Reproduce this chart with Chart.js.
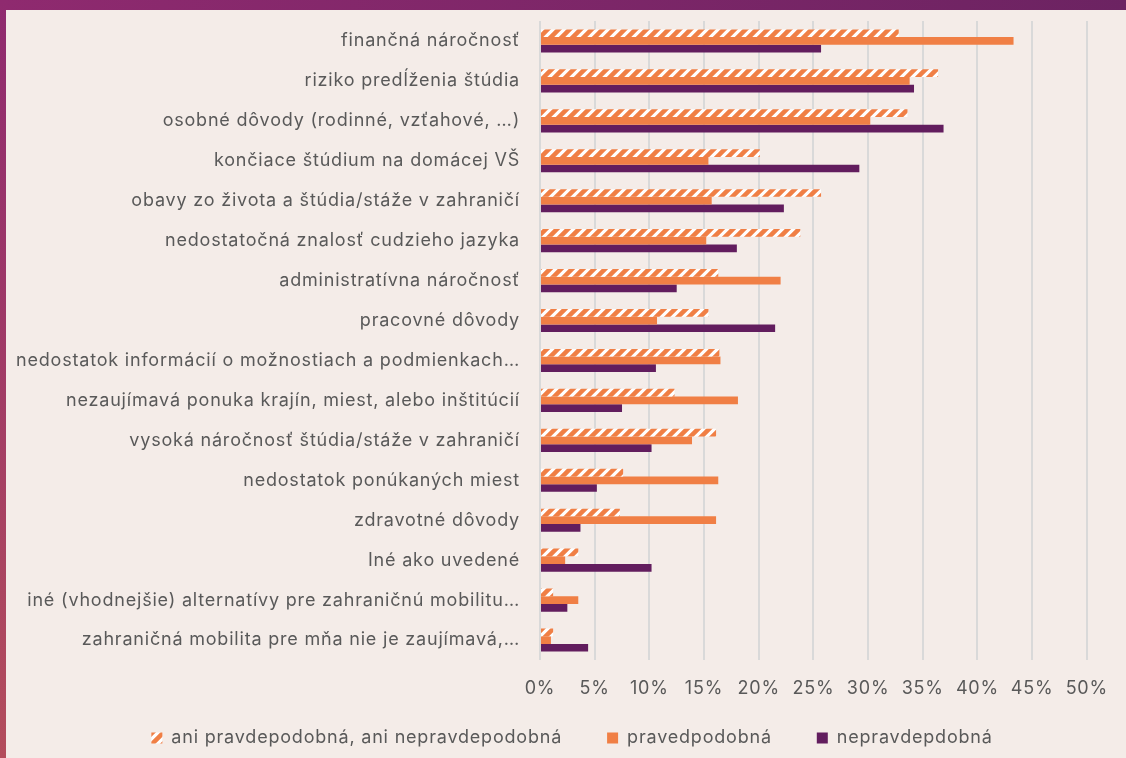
<!DOCTYPE html>
<html>
<head>
<meta charset="utf-8">
<title>Dôvody</title>
<script src="https://cdn.jsdelivr.net/npm/chart.js@4/dist/chart.umd.min.js"></script>
<style>
    html, body { margin: 0; padding: 0; }
    body { width: 1126px; height: 758px; position: relative; overflow: hidden; background: #f4ece8; }
    .band-top { position: absolute; left: 0; top: 0; width: 1126px; height: 10px; background: linear-gradient(to right, #8f2a6f, #6c2362); }
    .band-left { position: absolute; left: 0; top: 0; width: 6px; height: 758px; background: linear-gradient(to bottom, #8f2a6f, #b34d5c); }
    .chart-box { position: absolute; left: 6px; top: 10px; width: 1120px; height: 748px; }
</style>
</head>
<body>
<div class="band-top"></div>
<div class="band-left"></div>
<div class="chart-box"><canvas id="reasonsChart"></canvas></div>

<script>
const categories = [
    "finančná náročnosť",
    "riziko predĺženia štúdia",
    "osobné dôvody (rodinné, vzťahové, …)",
    "končiace štúdium na domácej VŠ",
    "obavy zo života a štúdia/stáže v zahraničí",
    "nedostatočná znalosť cudzieho jazyka",
    "administratívna náročnosť",
    "pracovné dôvody",
    "nedostatok informácií o možnostiach a podmienkach…",
    "nezaujímavá ponuka krajín, miest, alebo inštitúcií",
    "vysoká náročnosť štúdia/stáže v zahraničí",
    "nedostatok ponúkaných miest",
    "zdravotné dôvody",
    "Iné ako uvedené",
    "iné (vhodnejšie) alternatívy pre zahraničnú mobilitu…",
    "zahraničná mobilita pre mňa nie je zaujímavá,…"
];

const seriesNames = ["ani pravdepodobná, ani nepravdepodobná", "pravedpodobná", "nepravdepdobná"];

const neutralValues = [32.8, 36.4, 33.6, 20.1, 25.7, 23.8, 16.3, 15.4, 16.4, 12.3, 16.1, 7.6, 7.3, 3.5, 1.2, 1.2];
const likelyValues = [43.3, 33.8, 30.2, 15.4, 15.7, 15.2, 22.0, 10.7, 16.5, 18.1, 13.9, 16.3, 16.1, 2.3, 3.5, 1.0];
const unlikelyValues = [25.7, 34.2, 36.9, 29.2, 22.3, 18.0, 12.5, 21.5, 10.6, 7.5, 10.2, 5.2, 3.7, 10.2, 2.5, 4.4];

const xTicks = [0, 5, 10, 15, 20, 25, 30, 35, 40, 45, 50];

const orange = "#f07f45";
const purple = "#621d5e";
const textGray = "#595959";
const labelFont = { family: "Inter", size: 18 };

//diagonal stripes for the first series
function makeHatch() {
    const size = 11;
    const c = document.createElement("canvas");
    c.width = size;
    c.height = size;
    const g = c.getContext("2d");
    g.fillStyle = "#ffffff";
    g.fillRect(0, 0, size, size);
    g.strokeStyle = orange;
    g.lineWidth = 4.5;
    g.beginPath();
    g.moveTo(-2, size + 2);
    g.lineTo(size + 2, -2);
    g.moveTo(-2, 2);
    g.lineTo(2, -2);
    g.moveTo(size - 2, size + 2);
    g.lineTo(size + 2, size - 2);
    g.stroke();
    return g.createPattern(c, "repeat");
}

//the texts in the picture are a bit spaced out
const letterSpacing = {
    id: "letterSpacing",
    beforeLayout(chart) { chart.ctx.letterSpacing = "0.8px"; },
    beforeDraw(chart) { chart.ctx.letterSpacing = "0.8px"; }
};

//wide gaps between legend items, but the legend sits close under the axis
const liftLegend = {
    id: "liftLegend",
    afterLayout(chart) {
        const lg = chart.legend;
        lg.top -= 16;
        lg.height += 16;
        lg.left += 22;
        lg.right += 22;
    }
};

const ctx = document.getElementById("reasonsChart");
const hatch = makeHatch();

new Chart(ctx, {
    type: "bar",
    data: {
        labels: categories,
        datasets: [
            { label: seriesNames[0], data: neutralValues, backgroundColor: hatch, borderWidth: 0 },
            { label: seriesNames[1], data: likelyValues, backgroundColor: orange, borderWidth: 0 },
            { label: seriesNames[2], data: unlikelyValues, backgroundColor: purple, borderWidth: 0 }
        ]
    },
    plugins: [letterSpacing, liftLegend],
    options: {
        indexAxis: "y",
        responsive: true,
        maintainAspectRatio: false,
        animation: false,
        categoryPercentage: 0.58,
        barPercentage: 1.0,
        layout: { padding: { top: 11, right: 32, bottom: 0, left: 0 } },
        scales: {
            x: {
                min: 0,
                max: 50,
                afterBuildTicks(scale) {
                    scale.ticks = xTicks.map(v => ({ value: v }));
                },
                afterFit(scale) { scale.height = 40; },
                grid: { color: "#d9d9d9", lineWidth: 2, drawTicks: false },
                border: { display: false },
                ticks: {
                    color: textGray,
                    font: labelFont,
                    padding: 18,
                    callback: v => v + "%"
                }
            },
            y: {
                afterFit(scale) {
                    scale.width = 534;
                    scale.paddingTop = 0;
                    scale.paddingBottom = 0;
                },
                grid: { display: false },
                border: { display: false },
                ticks: {
                    color: textGray,
                    font: labelFont,
                    padding: 12,
                    autoSkip: false
                }
            }
        },
        plugins: {
            tooltip: { enabled: false },
            legend: {
                position: "bottom",
                maxHeight: 58,
                labels: {
                    color: textGray,
                    font: labelFont,
                    boxWidth: 11,
                    boxHeight: 11,
                    padding: 45
                }
            }
        }
    }
});
</script>
</body>
</html>
